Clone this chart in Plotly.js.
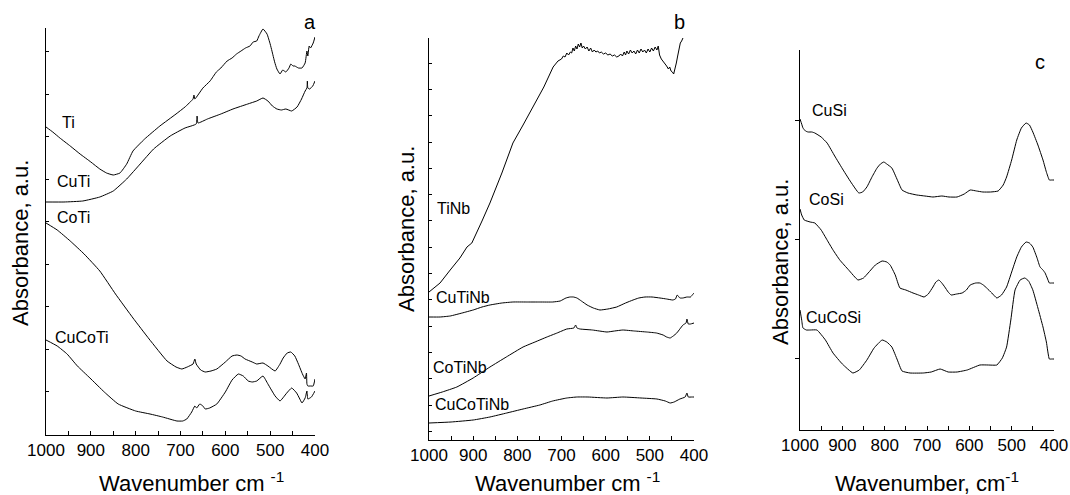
<!DOCTYPE html>
<html>
<head>
<meta charset="utf-8">
<script src="https://cdn.plot.ly/plotly-3.0.1.min.js"></script>
<style>html,body{margin:0;padding:0;background:#fff;}#chart{width:1070px;height:495px;}</style>
</head>
<body>
<div id="chart"></div>
<script>
// ---------- Data (wavenumber, cm-1 ; absorbance, arbitrary units) ----------
// Panel a
const tiWn = [1000,985,969,946,924,900,880,865,850,835,820,806,780,746,710,690,672,670,668,650,634,620,610,596,585,575,565,555,545,538,530,525,516,507,500,496,490,485,478,472,465,458,454,449,445,437,429,422,418,416,413,410,404,400];
const tiVal = [307,302,296,288,280,272,265,261,259,261,270,283,295,308,320,327,335,339,335,346,353,362,366,373,376,380,383,386,388,392,393,398,405,400,390,383,372,365,360,364,362,366,370,368,368,366,366,371,383,378,388,386,391,397];
const cutiWn = [1000,960,918,880,850,820,790,760,723,690,665,663,661,640,610,583,550,530,516,505,495,485,475,465,452,440,430,422,418,417,416,412,405,400];
const cutiVal = [232,232,233,237,243,255,270,285,298,306,310,318,311,315,320,325,330,333,336,333,328,325,324,325,323,327,335,343,346,353,346,345,348,353];
const cotiWn = [1000,975,946,915,880,845,806,770,730,710,697,685,672,668,665,655,645,632,619,600,585,574,565,556,540,530,516,505,489,478,471,462,454,445,437,428,422,419,418,416,410,404,400];
const cotiVal = [211,204,193,180,163,140,116,95,73,67,65,67,70,75,70,64,62,63,65,72,78,79,78,75,72,70,71,68,63,70,76,81,82,78,70,60,55,61,50,48,48,48,55];
const cucotiWn = [1000,975,953,930,902,870,839,800,768,740,708,695,686,675,668,664,657,650,645,635,619,600,585,571,560,549,540,530,516,505,489,478,470,463,452,441,435,429,422,418,416,408,400];
const cucotiVal = [94,88,80,68,56,42,30,23,20,17,13,13,15,22,28,26,30,28,25,26,30,42,54,60,58,53,52,53,58,50,38,33,37,41,46,41,36,31,36,43,35,37,43];

// Panel b
const tinbWn = [1000,975,952,930,914,903,880,862,835,810,787,765,740,719,708,700,696,692,688,684,680,677,674,671,668,665,662,659,656,653,650,646,642,638,634,630,626,622,618,614,610,605,600,595,590,585,580,575,570,566,562,558,555,552,548,544,540,536,532,528,524,520,516,512,508,504,500,496,492,488,484,481,478,474,470,466,462,458,455,452,449,446,443,440,437,434,431,428,425,421,416,410,405,400];
const tinbVal = [147,156,169,181,192,196,218,236,266,296,314,332,352,372,378,380,383,382,386,384,387,386,391,388,393,390,395,392,396,391,393,390,392,388,391,387,389,387,388,386,387,385,386,384,385,383,384,382,383,385,383,387,384,388,385,389,386,388,385,389,386,390,387,389,386,390,387,391,388,392,389,393,384,380,378,375,373,370,372,368,367,365,370,376,383,392,396,398,401,405,410,406,410,407];
const cutinbWn = [1000,975,952,925,900,880,862,835,810,780,749,720,703,690,681,673,665,655,642,628,613,595,575,555,538,525,511,495,477,462,448,442,438,432,425,416,408,402,400];
const cutinbVal = [122,122,123,126,129,132,134,136,137,137,137,137,138,141,142,142,141,138,134,131,129,130,132,136,139,141,142,142,141,140,139,140,144,141,141,142,142,145,146];
const cotinbWn = [1000,970,937,900,862,825,787,760,733,710,688,672,668,665,658,630,597,580,561,535,507,485,470,462,454,447,439,432,425,418,416,413,408,400];
const cotinbVal = [43,47,52,61,72,82,92,97,102,106,110,111,114,111,110,109,107,108,109,108,107,106,104,102,101,103,106,110,114,116,120,115,115,116];
const cucotinbWn = [1000,950,900,862,824,787,749,720,688,665,640,597,561,520,484,465,454,445,432,420,416,413,405,400];
const cucotinbVal = [16,17,19,22,26,30,34,38,41,42,42,41,42,41,40,38,36,37,40,42,46,42,42,42];

// Panel c
const cusiWn = [1000,996,993,987,981,972,965,950,936,918,898,880,861,852,842,830,818,810,802,795,783,770,759,745,724,705,686,665,648,629,612,598,583,568,550,532,520,512,500,488,477,466,458,450,438,426,418,411,405,400];
const cusiVal = [311,306,302,299,298,298,297,293,287,274,260,248,237,238,243,253,262,266,268,266,262,250,240,237,235,234,233,234,233,233,236,240,239,238,238,239,245,253,270,290,302,307,305,298,285,270,258,250,250,250];
const cosiWn = [1000,996,990,976,965,950,936,922,906,885,863,850,839,822,806,795,787,775,764,750,733,720,707,697,686,679,672,665,658,650,643,630,617,607,598,585,575,567,559,547,535,524,512,500,488,477,466,458,450,440,433,426,421,416,411,405,400];
const cosiVal = [221,215,210,208,207,200,190,180,170,160,150,152,157,165,169,168,165,155,142,140,137,135,133,136,143,148,150,147,143,138,135,136,137,140,145,147,147,145,142,137,132,135,143,158,173,183,188,187,183,172,163,160,157,152,147,147,147];
const cucosiWn = [1000,996,993,985,976,960,940,922,900,875,860,842,825,806,795,783,770,759,740,709,690,669,650,629,605,575,555,535,522,512,502,492,480,469,460,450,438,426,418,411,405,400];
const cucosiVal = [120,110,102,100,100,100,90,77,66,57,60,70,82,90,88,83,70,59,57,57,58,61,58,58,60,65,65,65,72,83,110,140,150,152,149,140,122,103,88,71,71,71];

// Labels
const seriesNames = {
  a: ['Ti','CuTi','CoTi','CuCoTi'],
  b: ['TiNb','CuTiNb','CoTiNb','CuCoTiNb'],
  c: ['CuSi','CoSi','CuCoSi']
};
const xTitleAB = 'Wavenumber cm <sup>-1</sup>';
const xTitleC = 'Wavenumber, cm<sup>-1</sup>';
const yTitle = 'Absorbance, a.u.';

// ---------- Build ----------
const FONT = 'Arial, "Liberation Sans", sans-serif';
const W = 1070, H = 495;
function line(x, y, xa, ya, name, shape) {
  return {x: x, y: y, xaxis: xa, yaxis: ya, name: name, mode: 'lines', type: 'scatter',
    line: {color: '#000', width: 1, shape: shape || 'spline', smoothing: 0.4}, hoverinfo: 'x+y+name'};
}
const data = [
  line(tiWn, tiVal, 'x', 'y', 'Ti'),
  line(cutiWn, cutiVal, 'x', 'y', 'CuTi'),
  line(cotiWn, cotiVal, 'x', 'y', 'CoTi'),
  line(cucotiWn, cucotiVal, 'x', 'y', 'CuCoTi'),
  line(tinbWn, tinbVal, 'x2', 'y2', 'TiNb', 'linear'),
  line(cutinbWn, cutinbVal, 'x2', 'y2', 'CuTiNb'),
  line(cotinbWn, cotinbVal, 'x2', 'y2', 'CoTiNb'),
  line(cucotinbWn, cucotinbVal, 'x2', 'y2', 'CuCoTiNb'),
  line(cusiWn, cusiVal, 'x3', 'y3', 'CuSi'),
  line(cosiWn, cosiVal, 'x3', 'y3', 'CoSi'),
  line(cucosiWn, cucosiVal, 'x3', 'y3', 'CuCoSi')
];

function px2x(px) { return px / W; }
function py2y(py) { return 1 - py / H; }

function xAxis(left, right, anchor) {
  return {domain: [px2x(left), px2x(right)], range: [1000, 400], anchor: anchor,
    showline: true, linecolor: '#000', linewidth: 1, mirror: false,
    ticks: 'inside', ticklen: 4, tickwidth: 1, tickcolor: '#000', dtick: 100, tick0: 0,
    minor: {ticks: 'inside', dtick: 50, ticklen: 4, tickwidth: 1, tickcolor: '#000', showgrid: false},
    tickfont: {family: FONT, size: 17, color: '#000'},
    showgrid: false, zeroline: false, fixedrange: true};
}
function yAxis(top, bottom, anchor, range, ticks, tick0, dtick, len) {
  return {domain: [py2y(bottom), py2y(top)], range: range, anchor: anchor,
    showline: true, linecolor: '#000', linewidth: 1, mirror: false,
    ticks: ticks, ticklen: len, tickwidth: 1, tickcolor: '#000', tick0: tick0, dtick: dtick,
    showticklabels: false, showgrid: false, zeroline: false, fixedrange: true};
}

const annotations = [];
function txt(px, py, text, size, opts) {
  annotations.push(Object.assign({xref: 'paper', yref: 'paper', x: px2x(px), y: py2y(py),
    text: text, showarrow: false, xanchor: 'left', yanchor: 'middle',
    font: {family: FONT, size: size, color: '#000'}}, opts || {}));
}
// series labels
txt(60, 122, seriesNames.a[0], 16);
txt(55, 181, seriesNames.a[1], 16);
txt(55, 218, seriesNames.a[2], 16);
txt(53, 337, seriesNames.a[3], 16);
txt(435, 208, seriesNames.b[0], 16);
txt(434, 297, seriesNames.b[1], 16);
txt(431, 367, seriesNames.b[2], 16);
txt(433, 404, seriesNames.b[3], 16);
txt(810, 110, seriesNames.c[0], 16);
txt(807, 200, seriesNames.c[1], 16);
txt(804, 317, seriesNames.c[2], 16);
// panel letters
txt(310, 22, 'a', 20, {xanchor: 'center'});
txt(679, 22, 'b', 20, {xanchor: 'center'});
txt(1040, 62, 'c', 20, {xanchor: 'center'});
// axis titles
txt(192, 482, xTitleAB, 22, {xanchor: 'center'});
txt(567, 482, xTitleAB, 22, {xanchor: 'center'});
txt(927, 482, xTitleC, 22, {xanchor: 'center'});
txt(20, 243, yTitle, 22, {xanchor: 'center', textangle: -90});
txt(406, 229, yTitle, 22, {xanchor: 'center', textangle: -90});
txt(780, 262, yTitle, 22, {xanchor: 'center', textangle: -90});

const layout = {
  width: W, height: H,
  margin: {l: 0, r: 0, t: 0, b: 0},
  paper_bgcolor: '#fff', plot_bgcolor: '#fff',
  showlegend: false,
  font: {family: FONT, color: '#000'},
  xaxis: xAxis(46, 315, 'y'),
  yaxis: yAxis(28, 435, 'x', [-1, 406], 'inside', 0, 42.5, 3),
  xaxis2: xAxis(429, 694, 'y2'),
  yaxis2: yAxis(38, 440, 'x2', [-1, 401], 'inside', 7.7, 26.3, 3),
  xaxis3: xAxis(800, 1054, 'y3'),
  yaxis3: yAxis(50, 430, 'x3', [0, 380], 'outside', 72, 119, 4),
  annotations: annotations
};

Plotly.newPlot('chart', data, layout, {displayModeBar: false, staticPlot: true});
</script>
</body>
</html>
